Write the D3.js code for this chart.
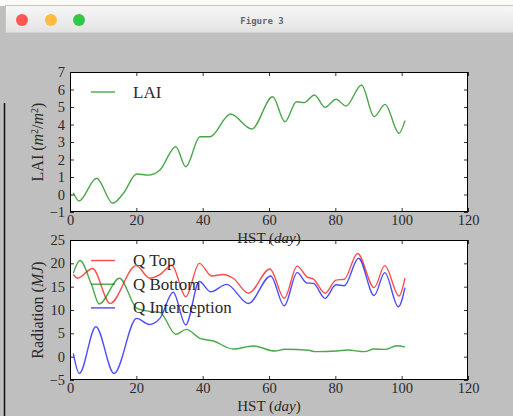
<!DOCTYPE html>
<html>
<head>
<meta charset="utf-8">
<script src="https://cdn.jsdelivr.net/npm/d3@7"></script>
<style>
  body { margin: 0; background: #bfbfbf; }
  svg { display: block; }
  text { font-family: "Liberation Serif", "DejaVu Serif", serif; fill: #2a2a2a; }
</style>
</head>
<body>
<script>
// LAI series (day, value)
const laiDays = [1, 2.7, 8, 12.9, 16.1, 20.1, 23.6, 27.1, 31.9, 34.9, 39.2, 42.2, 48.4, 54.8, 61.1, 64.8, 68.3, 70.6, 73.7, 76.9, 80.2, 83.2, 87.9, 91.7, 95, 99.2, 101];
const laiVals = [0.1, -0.37, 0.93, -0.5, 0.07, 1.17, 1.11, 1.4, 2.73, 1.59, 3.3, 3.3, 4.6, 3.74, 5.59, 4.16, 5.3, 5.25, 5.69, 4.98, 5.44, 5.06, 6.26, 4.45, 5.15, 3.5, 4.22];

// radiation series
const topDays = [1, 2.3, 6.8, 12.1, 19.9, 24.1, 27.1, 30.7, 34.9, 39, 42.7, 46.2, 49.2, 53.8, 60.3, 64.6, 68.5, 71.4, 73.4, 76.9, 80.2, 82.7, 86.7, 91.7, 94.9, 99.2, 101];
const topVals = [17.6, 16.8, 18.9, 11.4, 19.5, 16.8, 17.6, 19.6, 12.85, 20.0, 17.3, 17.6, 16.8, 13.6, 18.8, 12.5, 19.4, 17.1, 16.6, 13.6, 16.4, 16.6, 22.1, 14.8, 19.5, 13.0, 16.8];

const botDays = [1, 3, 6.5, 8.8, 14.9, 20.1, 23.1, 27.1, 31.9, 35.1, 39.2, 43.2, 49.2, 55.2, 61.8, 64.8, 72, 74, 80.4, 83.7, 88.8, 91.7, 95, 98.5, 101];
const botVals = [17.9, 20.6, 15.4, 11.3, 16.8, 10.4, 9.8, 9.5, 4.8, 5.85, 3.9, 3.36, 1.64, 2.3, 1.2, 1.6, 1.36, 1.07, 1.2, 1.43, 1.07, 1.64, 1.57, 2.35, 2.1];

const intDays = [1, 2.8, 7.8, 13.3, 20.1, 23.9, 27.1, 31.1, 34.9, 39, 42.4, 47.2, 53.8, 60.5, 64.6, 68.5, 71.4, 73.4, 76.9, 80.2, 82.7, 87, 91.7, 94.9, 99, 101];
const intVals = [0.7, -3.6, 6.4, -3.6, 8.2, 6.9, 8.2, 13.8, 6.8, 16.1, 13.9, 15.5, 11.4, 17.3, 10.9, 18.0, 15.8, 15.7, 12.5, 15.4, 15.2, 21.1, 13.1, 18.0, 10.7, 14.8];

const xTicks = [0, 20, 40, 60, 80, 100, 120];
const laiTicks = [-1, 0, 1, 2, 3, 4, 5, 6, 7];
const radTicks = [-5, 0, 5, 10, 15, 20, 25];

const W = 513, H = 416;
const svg = d3.select("body").append("svg").attr("width", W).attr("height", H);

// window chrome
svg.append("rect").attr("width", W).attr("height", H).attr("fill", "#bfbfbf");
svg.append("rect").attr("width", W).attr("height", 6).attr("fill", "#fafafa");
const grad = svg.append("defs").append("linearGradient").attr("id", "bar").attr("x1", 0).attr("x2", 0).attr("y1", 0).attr("y2", 1);
grad.append("stop").attr("offset", "0%").attr("stop-color", "#f7f7f7");
grad.append("stop").attr("offset", "100%").attr("stop-color", "#e3e3e3");
svg.append("rect").attr("x", 5).attr("y", 6).attr("width", W - 5).attr("height", 26).attr("fill", "url(#bar)");
svg.append("line").attr("x1", 5).attr("x2", W).attr("y1", 5.5).attr("y2", 5.5).attr("stroke", "#cbbde0");
svg.append("line").attr("x1", 5).attr("x2", W).attr("y1", 32.5).attr("y2", 32.5).attr("stroke", "#d4d4d4");
svg.append("line").attr("x1", 5.5).attr("x2", 5.5).attr("y1", 5).attr("y2", 33).attr("stroke", "#cbbde0");
svg.append("line").attr("x1", 4.5).attr("x2", 4.5).attr("y1", 103).attr("y2", H).attr("stroke", "#111").attr("stroke-width", 1.5);
[["#fc5753", 22], ["#fdbc40", 51], ["#33c748", 79]].forEach(([c, cx]) => {
    svg.append("circle").attr("cx", cx).attr("cy", 20).attr("r", 6).attr("fill", c);
});
svg.append("text").attr("x", 262).attr("y", 23.5).attr("text-anchor", "middle")
    .style("font-family", "DejaVu Sans Mono, monospace").style("font-size", "9px")
    .style("font-weight", "bold").style("fill", "#666").text("Figure 3");

const left = 70, right = 468;
const x = d3.scaleLinear().domain([0, 120]).range([left, right]);

function panel(top, bottom, yDomain) {
    const y = d3.scaleLinear().domain(yDomain).range([bottom, top]);
    const g = svg.append("g");
    g.append("rect").attr("x", left).attr("y", top).attr("width", right - left).attr("height", bottom - top).attr("fill", "#fff");
    return {g, y, top, bottom};
}

function frame(p, yTicks) {
    const {g, y, top, bottom} = p;
    g.append("g").attr("transform", "translate(0," + bottom + ")")
        .call(d3.axisBottom(x).tickValues(xTicks).tickSize(-4).tickPadding(3));
    g.append("g").attr("transform", "translate(" + left + ",0)")
        .call(d3.axisLeft(y).tickValues(yTicks).tickSize(-4).tickPadding(5));
    g.append("g").attr("transform", "translate(0," + top + ")")
        .call(d3.axisTop(x).tickValues(xTicks).tickSize(-4).tickFormat(""));
    g.append("g").attr("transform", "translate(" + right + ",0)")
        .call(d3.axisRight(y).tickValues(yTicks).tickSize(-4).tickFormat(""));
    g.selectAll(".domain").remove();
    g.selectAll(".tick line").attr("stroke", "#000").attr("stroke-width", 0.8);
    g.selectAll(".tick text").attr("fill", "#2a2a2a").style("font-family", "Liberation Serif, serif").style("font-size", "14.5px");
    g.append("rect").attr("x", left + 0.5).attr("y", top + 0.5).attr("width", right - left - 1).attr("height", bottom - top - 1)
        .attr("fill", "none").attr("stroke", "#000").attr("stroke-width", 1);
}

function series(p, days, vals, color) {
    const line = d3.line().x(d => x(d[0])).y(d => p.y(d[1])).curve(d3.curveMonotoneX);
    p.g.append("path").datum(d3.zip(days, vals)).attr("d", line)
        .attr("fill", "none").attr("stroke", color).attr("stroke-opacity", 0.7).attr("stroke-width", 1.4);
}

function legend(p, items, y0, step) {
    items.forEach(([label, color], i) => {
        const yy = y0 + i * step;
        p.g.append("line").attr("x1", 91).attr("x2", 115).attr("y1", yy).attr("y2", yy)
            .attr("stroke", color).attr("stroke-opacity", 0.7).attr("stroke-width", 1.4);
        p.g.append("text").attr("x", 133).attr("y", yy + 5.5).style("font-size", "17px").text(label);
    });
}

// LAI panel
const p1 = panel(72, 212, [-1, 7]);
series(p1, laiDays, laiVals, "green");
frame(p1, laiTicks);
legend(p1, [["LAI", "green"]], 92, 0);

// radiation panel
const p2 = panel(240, 380, [-5, 25]);
series(p2, topDays, topVals, "red");
series(p2, botDays, botVals, "green");
series(p2, intDays, intVals, "blue");
frame(p2, radTicks);
legend(p2, [["Q Top", "red"], ["Q Bottom", "green"], ["Q Interception", "blue"]], 260.5, 23.7);

// axis labels
function xLabel(yb) {
    const t = svg.append("text").attr("x", (left + right) / 2).attr("y", yb).attr("text-anchor", "middle").style("font-size", "15px");
    t.append("tspan").text("HST (");
    t.append("tspan").style("font-style", "italic").text("day");
    t.append("tspan").text(")");
}
xLabel(242.5);
xLabel(411);

const yl1 = svg.append("text").attr("transform", "translate(43,142) rotate(-90)").attr("text-anchor", "middle").style("font-size", "16px");
yl1.append("tspan").text("LAI (");
yl1.append("tspan").style("font-style", "italic").text("m");
yl1.append("tspan").attr("dy", -5).style("font-size", "10px").text("2");
yl1.append("tspan").attr("dy", 5).text("/");
yl1.append("tspan").style("font-style", "italic").text("m");
yl1.append("tspan").attr("dy", -5).style("font-size", "10px").text("2");
yl1.append("tspan").attr("dy", 5).text(")");

const yl2 = svg.append("text").attr("transform", "translate(43,310) rotate(-90)").attr("text-anchor", "middle").style("font-size", "16px");
yl2.append("tspan").text("Radiation (");
yl2.append("tspan").style("font-style", "italic").text("MJ");
yl2.append("tspan").text(")");
</script>
</body>
</html>
